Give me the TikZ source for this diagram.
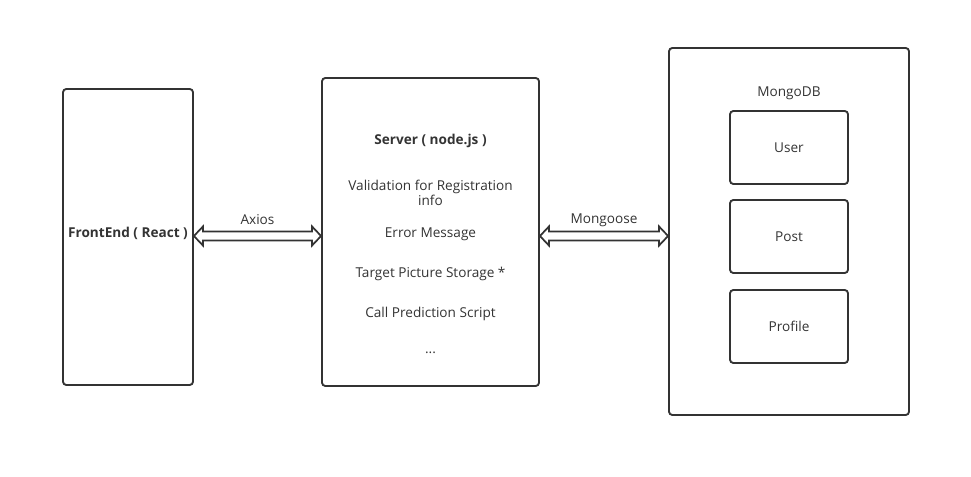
\documentclass[tikz,border=0pt]{standalone}
\usepackage{fontspec}
\setmainfont{Open Sans}
\usetikzlibrary{calc}
\definecolor{ink}{HTML}{333333}
\begin{document}
\begin{tikzpicture}[x=0.75pt, y=-0.75pt, line width=1.4pt, draw=ink, text=ink,
  font=\fontsize{10.2}{11.5}\selectfont,
  box/.style={draw=ink, rounded corners=2.5pt, inner sep=0pt},
  hollow/.style={draw=ink, line width=1.3pt, line join=miter, fill=white}]

\useasboundingbox (0,0) rectangle (971,477);

% FrontEnd box
\node[box, minimum width=97.5pt, minimum height=222pt] (front) at (128,237) {};
\node[font=\fontsize{10.2}{11.5}\selectfont\bfseries] (frontname) at (128,233) {FrontEnd ( React )};

% Server box and its lines
\node[box, minimum width=162.75pt, minimum height=231pt] (server) at (430.5,232) {};
\node[font=\fontsize{10.2}{11.5}\selectfont\bfseries] (title) at (430.5,141) {Server ( node.js )};
\node[align=center] (valid) at (430.5,193) {Validation for Registration\\info};
\node (error) at (430.5,234) {Error Message};
\node (store) at (430.5,274) {Target Picture Storage *};
\node (predict) at (430.5,314) {Call Prediction Script};
\node (dots) at (430.5,353) {...};

% MongoDB box with collections
\node[box, minimum width=180pt, minimum height=275.25pt] (mongo) at (789,231.5) {};
\node (mongoname) at (789,93) {MongoDB};
\node[box, minimum width=88.5pt, minimum height=54.75pt] (user) at (789,147.5) {User};
\node[box, minimum width=88.5pt, minimum height=54.75pt] (post) at (789,236.5) {Post};
\node[box, minimum width=88.5pt, minimum height=54.75pt] (profile) at (789,326.5) {Profile};

% Hollow double-headed arrows
\coordinate (axisy) at (0,236);
\coordinate (ax1) at (front.east |- axisy);
\coordinate (ax2) at (server.west |- axisy);
\coordinate (mg1) at (server.east |- axisy);
\coordinate (mg2) at (mongo.west |- axisy);

\draw[hollow] (ax1) -- ($(ax1)+(9,-9.5)$) -- ($(ax1)+(9,-4.5)$) -- ($(ax2)+(-9,-4.5)$)
  -- ($(ax2)+(-9,-9.5)$) -- (ax2) -- ($(ax2)+(-9,9.5)$) -- ($(ax2)+(-9,4.5)$)
  -- ($(ax1)+(9,4.5)$) -- ($(ax1)+(9,9.5)$) -- cycle;
\draw[hollow] (mg1) -- ($(mg1)+(9,-9.5)$) -- ($(mg1)+(9,-4.5)$) -- ($(mg2)+(-9,-4.5)$)
  -- ($(mg2)+(-9,-9.5)$) -- (mg2) -- ($(mg2)+(-9,9.5)$) -- ($(mg2)+(-9,4.5)$)
  -- ($(mg1)+(9,4.5)$) -- ($(mg1)+(9,9.5)$) -- cycle;

% Arrow labels
\node (axios) at ($(ax1)!0.5!(ax2)+(0,-16)$) {Axios};
\node (mongoose) at ($(mg1)!0.5!(mg2)+(0,-16)$) {Mongoose};

\end{tikzpicture}
\end{document}
